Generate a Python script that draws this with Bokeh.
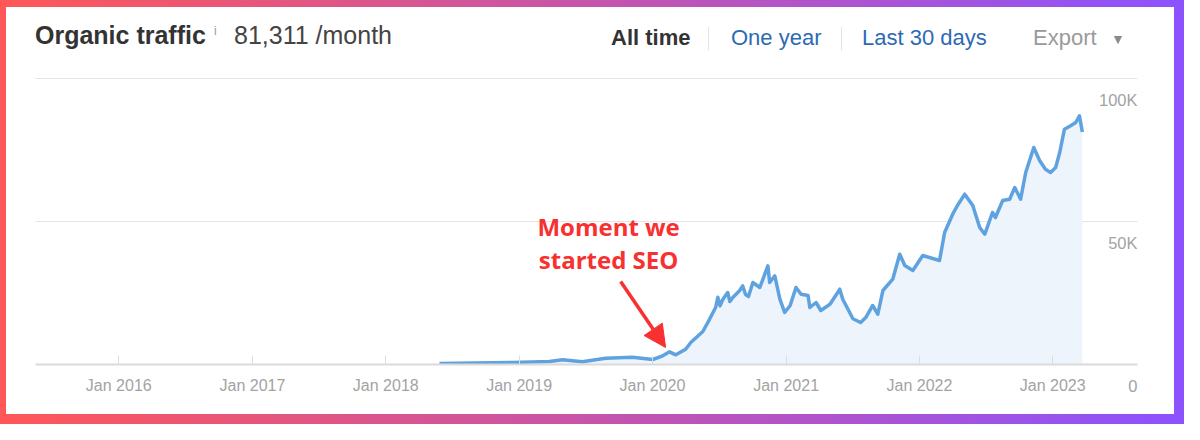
import pandas as pd
from bokeh.plotting import figure
from bokeh.layouts import column
from bokeh.models import (ColumnDataSource, Range1d, FixedTicker, DatetimeTickFormatter,
                          Label, Arrow, NormalHead, Div)
from bokeh.embed import file_html
from bokeh.resources import INLINE

# ---------------- data ----------------
dates = ["2018-05-28", "2018-12-14", "2019-03-25", "2019-04-30", "2019-06-23", "2019-08-26",
         "2019-11-07", "2020-01-02", "2020-01-29", "2020-02-17", "2020-03-05", "2020-04-01",
         "2020-04-15", "2020-05-18", "2020-06-06", "2020-06-22", "2020-06-28", "2020-07-04",
         "2020-07-12", "2020-07-25", "2020-07-31", "2020-08-08", "2020-08-27", "2020-09-04",
         "2020-09-12", "2020-09-20", "2020-10-02", "2020-10-21", "2020-11-12",
         "2020-11-17", "2020-12-01", "2020-12-15", "2020-12-28", "2021-01-12", "2021-01-28",
         "2021-02-11", "2021-03-02", "2021-03-07", "2021-03-24", "2021-04-06", "2021-05-01",
         "2021-05-28", "2021-06-05", "2021-07-03", "2021-07-24", "2021-08-07", "2021-08-26",
         "2021-09-09", "2021-09-23", "2021-10-20", "2021-11-08", "2021-11-22", "2021-12-14",
         "2022-01-10", "2022-02-25", "2022-03-11", "2022-04-02", "2022-04-15", "2022-05-05",
         "2022-05-27", "2022-06-15", "2022-06-29", "2022-07-20", "2022-07-28", "2022-08-17",
         "2022-09-05", "2022-09-19", "2022-10-05", "2022-10-19", "2022-11-10", "2022-11-26",
         "2022-12-12", "2022-12-26", "2023-01-09", "2023-01-20", "2023-02-02", "2023-02-19",
         "2023-03-05", "2023-03-15", "2023-03-23"]
traffic = [350, 700, 1050, 1640, 940, 2200,
           2550, 1750, 3040, 4440, 3390, 5350,
           7690, 11540, 15980, 19930, 23500, 20500,
           22830, 25170, 22000, 23430, 25870, 27500,
           24480, 23800, 28670, 26920, 34510,
           28670, 31010, 22830, 18180, 20630, 26920,
           24580, 24130, 19930, 21680, 18880, 21080,
           26330, 22830, 15980, 14690, 16430, 20630,
           17590, 25870, 29830, 38570, 34620, 32870,
           38110, 36360, 46150, 52550, 55590, 59550,
           55590, 47900, 45560, 53150, 51400, 57340,
           57800, 61890, 57800, 67130, 75870, 71330,
           68290, 67130, 68880, 74130, 82270, 83460,
           84620, 86960, 81311]

x_tick_years = [2016, 2017, 2018, 2019, 2020, 2021, 2022, 2023]
y_tick_values = [0, 50000, 100000]
y_tick_labels = ["0", "50K", "100K"]

x_start = "2015-05-18"
x_end = "2023-08-21"
y_end = 100700   # a little headroom so the 100K gridline is not clipped

title_text = "Organic traffic"
info_text = "i"
value_text = "81,311 /month"
tabs = ["All time", "One year", "Last 30 days"]
export_text = "Export"

annot_lines = ["Moment we", "started SEO"]
annot_date = "2019-09-03"
annot_values = [48250, 36710]
arrow_start = ("2019-10-06", 29020)
arrow_end = ("2020-02-06", 5940)

RED = "#f8302f"
GRAY_TXT = "#a3a3a3"


def ms(d):
    return (pd.Timestamp(d) - pd.Timestamp("1970-01-01")).total_seconds() * 1000.0


# ---------------- header (HTML text) ----------------
def span(text, left, top, size, color, weight="normal"):
    return (f'<span style="position:absolute;left:{left}px;top:{top}px;font-size:{size}px;'
            f'line-height:1;font-weight:{weight};color:{color};white-space:nowrap;">{text}</span>')


def sep(left):
    return (f'<span style="position:absolute;left:{left}px;top:20px;width:0;height:23px;'
            f'border-left:1px solid #e3e3e3;"></span>')


header_html = (
    '<div style="position:relative;width:1168px;height:69px;'
    "font-family:'Liberation Sans',Arial,sans-serif;\">"
    + span(title_text, 29, 16, 25, "#333333", "bold")
    + span(info_text, 208, 18, 12, "#9a9a9a")
    + span(value_text, 228, 16, 25, "#444444")
    + span(tabs[0], 605, 20, 22, "#333333", "bold")
    + sep(702)
    + span(tabs[1], 725, 20, 22, "#2d6ab4")
    + sep(835)
    + span(tabs[2], 856, 20, 22, "#2d6ab4")
    + span(export_text, 1027, 20, 22, "#9a9a9a")
    + span("\u25BC", 1105, 25, 14, "#8a8a8a")
    + "</div>"
)
header = Div(text=header_html, width=1168, height=69, margin=0)

# ---------------- chart ----------------
src = ColumnDataSource(dict(date=pd.to_datetime(dates), traffic=traffic))

p = figure(width=1168, height=338, x_axis_type="datetime", y_axis_location=None,
           x_range=Range1d(ms(x_start), ms(x_end)), y_range=Range1d(0, y_end),
           output_backend="svg", toolbar_location=None,
           min_border_left=29, min_border_right=37, min_border_top=0, min_border_bottom=50,
           outline_line_color=None, border_fill_color="white", background_fill_color="white",
           margin=0, styles={"background-color": "white"})

p.varea(x="date", y1=0, y2="traffic", source=src, fill_color="#eef4fc")
p.line(x="date", y="traffic", source=src, line_color="#5fa2e0", line_width=3.5,
       line_join="round")

p.xgrid.visible = False
p.ygrid.ticker = FixedTicker(ticks=[v for v in y_tick_values if v > 0])
p.ygrid.grid_line_color = "#e4e4e4"
p.ygrid.grid_line_width = 1

ax = p.xaxis[0]
ax.ticker = FixedTicker(ticks=[ms(f"{y}-01-01") for y in x_tick_years])
ax.formatter = DatetimeTickFormatter(years="%b %Y", months="%b %Y", days="%b %Y",
                                     hours="%b %Y")
ax.axis_line_color = "#dadada"
ax.axis_line_width = 2
ax.major_tick_line_color = "#dddddd"
ax.major_tick_in = 9
ax.major_tick_out = 0
ax.minor_tick_line_color = None
ax.major_label_text_color = GRAY_TXT
ax.major_label_text_font = "Liberation Sans"
ax.major_label_text_font_size = "16px"
ax.major_label_standoff = 12

# y tick labels, right aligned just under their gridlines
for v, t in zip(y_tick_values, y_tick_labels):
    lab = Label(x=ms(x_end), y=v, text=t, text_align="right", text_baseline="middle",
                y_offset=-21, text_color=GRAY_TXT, text_font="Liberation Sans",
                text_font_size="16.5px")
    p.add_layout(lab, "below" if v == 0 else "center")

# annotation
for txt, v in zip(annot_lines, annot_values):
    p.add_layout(Label(x=ms(annot_date), y=v, text=txt, text_align="center",
                       text_baseline="middle", text_color=RED,
                       text_font="Open Sans", text_font_style="bold",
                       text_font_size="24px"))
p.add_layout(Arrow(x_start=ms(arrow_start[0]), y_start=arrow_start[1],
                   x_end=ms(arrow_end[0]), y_end=arrow_end[1],
                   line_color=RED, line_width=3.5,
                   end=NormalHead(size=22, fill_color=RED, line_color=RED)))

card = column(header, p, width=1168, height=407, spacing=0, margin=(7, 10, 10, 6),
              styles={"background-color": "white"})
layout = column(card, width=1184, height=424,
                styles={"background": "linear-gradient(90deg, #ff5757 0%, #8c52ff 100%)"})

open("out.html", "w").write(file_html(layout, INLINE))
